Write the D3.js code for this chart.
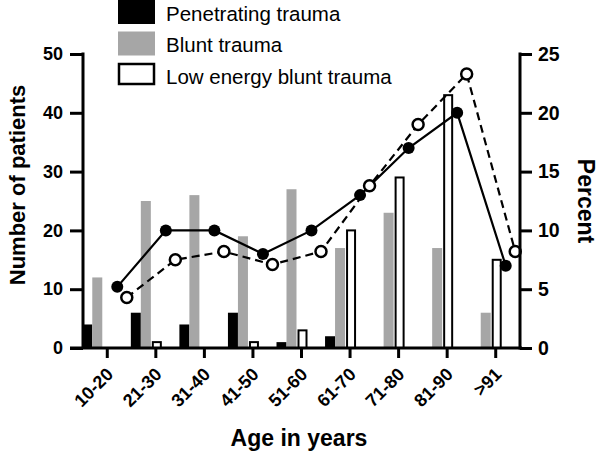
<!DOCTYPE html>
<html><head><meta charset="utf-8">
<script src="https://cdn.jsdelivr.net/npm/d3@7"></script>
<style>body{margin:0;background:#fff}svg{display:block;font-family:"Liberation Sans",Arial,sans-serif}</style>
</head><body><svg id="c" width="600" height="451"></svg>
<script>
const categories = ["10-20","21-30","31-40","41-50","51-60","61-70","71-80","81-90",">91"];
const penetrating = [4,6,4,6,1,2,0,0,0];
const blunt = [12,25,26,19,27,17,23,17,6];
const lowEnergy = [0,1,0,1,3,20,29,43,15];
const pctHigh = [5.2,10,10,8,10,13,17,20,7];
const pctLow = [4.3,7.5,8.2,7.1,8.2,13.8,19,23.3,8.2];
const leftTicks = [0,10,20,30,40,50];
const rightTicks = [0,5,10,15,20,25];
const legendLabels = ["Penetrating trauma","Blunt trauma","Low energy blunt trauma"];

const svg = d3.select("#c");
const x = d3.scaleBand().domain(categories).range([83,520]);
const yL = d3.scaleLinear().domain([0,50]).range([348,54]);
const yR = d3.scaleLinear().domain([0,25]).range([348,54]);
const sub = d3.scaleBand().domain(["pen","blunt","low"]).range([-25,5]);

const g = svg.append("g");
// bars
g.selectAll(".pen").data(penetrating).join("rect")
  .attr("x",(d,i)=>x(categories[i])+x.bandwidth()/2+sub("pen"))
  .attr("width",sub.bandwidth()).attr("y",d=>yL(d)).attr("height",d=>yL(0)-yL(d)).attr("fill","#000");
g.selectAll(".bl").data(blunt).join("rect")
  .attr("x",(d,i)=>x(categories[i])+x.bandwidth()/2+sub("blunt"))
  .attr("width",sub.bandwidth()).attr("y",d=>yL(d)).attr("height",d=>yL(0)-yL(d)).attr("fill","#a6a6a6");
g.selectAll(".lo").data(lowEnergy).join("rect")
  .attr("x",(d,i)=>x(categories[i])+x.bandwidth()/2+sub("low")+2)
  .attr("width",sub.bandwidth()-2).attr("y",d=>yL(d)).attr("height",d=>yL(0)-yL(d))
  .attr("fill","#fff").attr("stroke",d=>d>0?"#000":"none").attr("stroke-width",2);

// lines
const cx1 = i=>x(categories[i])+x.bandwidth()/2+10;
const cx2 = i=>x(categories[i])+x.bandwidth()/2+19.5;
const l1 = d3.line().x((d,i)=>cx1(i)).y(d=>yR(d));
const l2 = d3.line().x((d,i)=>cx2(i)).y(d=>yR(d));
g.append("path").attr("d",l2(pctLow)).attr("fill","none").attr("stroke","#000").attr("stroke-width",2.2).attr("stroke-dasharray","8,5");
g.append("path").attr("d",l1(pctHigh)).attr("fill","none").attr("stroke","#000").attr("stroke-width",2.2);
g.selectAll(".p1").data(pctHigh).join("circle").attr("cx",(d,i)=>cx1(i)).attr("cy",d=>yR(d)).attr("r",6).attr("fill","#000");
g.selectAll(".p2").data(pctLow).join("circle").attr("cx",(d,i)=>cx2(i)).attr("cy",d=>yR(d)).attr("r",5.5).attr("fill","#fff").attr("stroke","#000").attr("stroke-width",2.5);

// axes
const ax = d3.axisBottom(x).tickSize(10).tickSizeOuter(0);
const xg = svg.append("g").attr("transform","translate(0,348)").call(ax);
xg.select(".domain").attr("d","M70,0H522").attr("stroke-width",3);
xg.selectAll(".tick line").attr("stroke-width",3);
xg.selectAll(".tick text").attr("font-size",18).attr("font-weight","bold").attr("fill","#000")
  .attr("text-anchor","end").attr("transform","translate(2.5,23) rotate(-45)").attr("dy","0.35em").attr("y",0);

const lg = svg.append("g").attr("transform","translate(83,0)").call(d3.axisLeft(yL).tickValues(leftTicks).tickSize(13).tickSizeOuter(0));
lg.select(".domain").attr("stroke-width",3).attr("d","M0,52.5V348");
lg.selectAll(".tick line").attr("stroke-width",3);
lg.selectAll(".tick text").attr("font-size",18).attr("font-weight","bold").attr("fill","#000").attr("x",-20);

const rg = svg.append("g").attr("transform","translate(520,0)").call(d3.axisRight(yR).tickValues(rightTicks).tickSize(12).tickSizeOuter(0));
rg.select(".domain").attr("stroke-width",3).attr("d","M0,52.5V349.5");
rg.selectAll(".tick line").attr("stroke-width",3);
rg.selectAll(".tick text").attr("font-size",19.5).attr("font-weight","bold").attr("fill","#000").attr("x",18);
svg.selectAll(".domain").attr("stroke","#000");
svg.selectAll(".tick line").attr("stroke","#000");

// titles
svg.append("text").attr("transform","translate(25,185) rotate(-90)").attr("text-anchor","middle")
  .attr("font-size",22).attr("font-weight","bold").text("Number of patients");
svg.append("text").attr("transform","translate(578,201) rotate(90)").attr("text-anchor","middle")
  .attr("font-size",23).attr("font-weight","bold").text("Percent");
svg.append("text").attr("x",299).attr("y",446).attr("text-anchor","middle")
  .attr("font-size",23).attr("font-weight","bold").text("Age in years");

// legend
const leg = svg.append("g");
const fills = ["#000","#a6a6a6","#fff"];
legendLabels.forEach((t,i)=>{
  const yy = i*31.5;
  leg.append("rect").attr("x",i===2?119:118).attr("y",i===2?yy+1:yy).attr("width",i===2?35:37).attr("height",i===2?20:24)
    .attr("fill",fills[i]).attr("stroke",i===2?"#000":"none").attr("stroke-width",2.5);
  leg.append("text").attr("x",166).attr("y",yy+20.5).attr("font-size",20.5).text(t);
});
</script></body></html>
